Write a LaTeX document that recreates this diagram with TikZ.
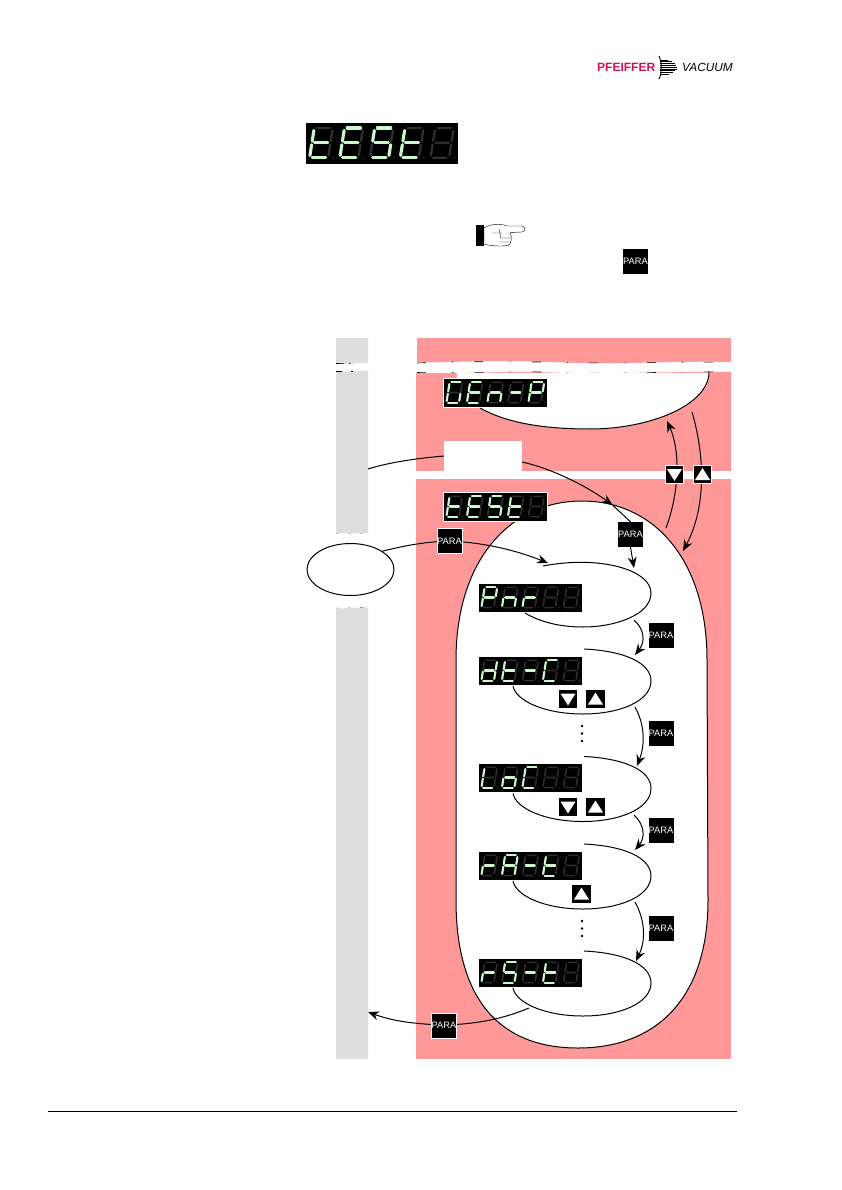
\documentclass[tikz,border=0pt]{standalone}
\usepackage{fontspec}
\setmainfont{Liberation Sans}
\usetikzlibrary{arrows.meta,shapes.geometric}

\definecolor{panelpink}{HTML}{FF9999}
\definecolor{bargray}{HTML}{DEDEDE}
\definecolor{ledon}{HTML}{CDF7CD}
\definecolor{ledoff}{HTML}{2E2E2E}
\definecolor{logored}{HTML}{D4124F}

% Segmente der Anzeige
\def\segt{d,e,f,g}
\def\segE{a,d,e,f,g}
\def\segS{a,c,d,f,g}
\def\segG{a,c,d,e,f}
\def\segn{c,e,g}
\def\segm{g}
\def\segP{a,b,e,f,g}
\def\segr{e,g}
\def\segd{b,c,d,e,g}
\def\segC{a,d,e,f}
\def\segL{d,e,f}
\def\sego{c,d,e,g}
\def\segA{a,b,c,e,f,g}
\def\segx{z}

% #1 Name, #2 links, #3 oben, #4 Massstab, #5 Zeichen
\newcommand{\ledpanel}[5]{%
  \begin{scope}[shift={(#2,#3)},scale=#4]
    \fill[black] (0,0) coordinate (#1nw) rectangle (103,28) coordinate (#1se);
    \foreach \ch [count=\ii] in {#5} {
      \begin{scope}[shift={({5.6+20.5*(\ii-1)},3.4)},x={(12.6pt,0pt)},y={(-3.2pt,-20.2pt)},line cap=round]
        \fill[ledoff] (1.27,1) circle (0.7pt);
        \draw[ledoff,line width=#4*1.6pt] (0.14,0) -- (0.86,0) (1,0.08) -- (1,0.44) (1,0.56) -- (1,0.92)
          (0.14,1) -- (0.86,1) (0,0.56) -- (0,0.92) (0,0.08) -- (0,0.44) (0.14,0.5) -- (0.86,0.5);
        \edef\litlist{\csname seg\ch\endcsname}
        \foreach \s in \litlist {
          \if a\s \draw[ledon,line width=#4*2.1pt] (0.14,0) -- (0.86,0); \fi
          \if b\s \draw[ledon,line width=#4*2.1pt] (1,0.08) -- (1,0.44); \fi
          \if c\s \draw[ledon,line width=#4*2.1pt] (1,0.56) -- (1,0.92); \fi
          \if d\s \draw[ledon,line width=#4*2.1pt] (0.14,1) -- (0.86,1); \fi
          \if e\s \draw[ledon,line width=#4*2.1pt] (0,0.56) -- (0,0.92); \fi
          \if f\s \draw[ledon,line width=#4*2.1pt] (0,0.08) -- (0,0.44); \fi
          \if g\s \draw[ledon,line width=#4*2.1pt] (0.14,0.5) -- (0.86,0.5); \fi
        }
      \end{scope}
    }
  \end{scope}}

\tikzset{
  flow/.style={line width=1pt, -{Stealth[length=11pt,width=9pt]}},
  loopline/.style={line width=1pt},
  parakey/.style={fill=black, text=white, font=\fontsize{9.3}{10}\selectfont, minimum size=25pt, inner sep=0pt},
  parawhite/.style={parakey, draw=white, line width=1pt},
  arrowkey/.style={fill=black, minimum size=18.5pt, inner sep=0pt},
  keydown/.style={arrowkey, path picture={\fill[white] ([shift={(-7.5pt,5.5pt)}]path picture bounding box.center) -- ([shift={(7.5pt,5.5pt)}]path picture bounding box.center) -- ([shift={(0pt,-6.5pt)}]path picture bounding box.center) -- cycle;}},
  keyup/.style={arrowkey, path picture={\fill[white] ([shift={(-7.5pt,-5.5pt)}]path picture bounding box.center) -- ([shift={(7.5pt,-5.5pt)}]path picture bounding box.center) -- ([shift={(0pt,6.5pt)}]path picture bounding box.center) -- cycle;}},
  whitering/.style={draw=white, line width=1.4pt},
  tear/.style={line width=0.6pt, dash pattern=on 9pt off 26pt on 1.5pt off 21pt},
}

\begin{document}
\begin{tikzpicture}[x=1pt,y=-1pt]
  \useasboundingbox (0,0) rectangle (842,1190);
  \fill[white] (0,0) rectangle (842,1190);

  % Kopf: Logo
  \node[inner sep=0pt, anchor=west, text=logored, font=\bfseries\fontsize{12}{13}\selectfont] (logoA) at (597,67.5) {PFEIFFER};
  \node[inner sep=0pt, anchor=west, font=\itshape\fontsize{11.8}{12}\selectfont] (logoB) at (682,67.5) {VACUUM};
  \foreach \yy in {60,61.8,...,75} {
    \draw[line width=0.6pt] (660,\yy) -- ({677-0.16*(\yy-67.5)*(\yy-67.5)},\yy);
  }
  \draw[line width=0.9pt] (659,56) .. controls (662,62) and (662,73) .. (659,79);

  % Anzeige oben
  \ledpanel{top}{306}{123}{1.475}{t,E,S,t,x}

  % Hand
  \fill[black] (476,225) rectangle (484,246);
  \draw[line width=0.4pt, fill=white] (484,228) .. controls (490,224) and (500,223) .. (507,226) -- (522,226) .. controls (526,227) and (526,231) .. (522,232) -- (510,232.5) .. controls (512,236) and (512,244) .. (508,245.5) .. controls (500,246.5) and (490,246) .. (484,244) -- cycle;
  \draw[line width=0.3pt] (492,233) -- (502,233) (499,229) -- (501,238) (500,238) -- (511,238) (500,242) -- (510,242);

  \node[parakey] (paraHead) at (635.5,261.5) {PARA};

  % Flaechen
  \fill[bargray] (336,338) -- (368,338) -- (368,363) .. controls (360,364) and (358,362) .. (352,364) .. controls (346,365) and (342,363) .. (336,363) -- cycle;
  \fill[bargray] (336,371) .. controls (342,370) and (348,373) .. (352,372) .. controls (358,371) and (362,371) .. (368,371) -- (368,533) -- (336,533) -- cycle;
  \fill[bargray] (336,608.5) -- (368,607.5) -- (368,1059) -- (336,1059) -- cycle;
  \fill[panelpink] (417,338) -- (731,338) -- (731,362) .. controls (690,361) and (650,363) .. (620,363) .. controls (580,364) and (540,361) .. (500,361) .. controls (470,361) and (440,363) .. (417,362) -- cycle;
  \fill[panelpink] (416,373) .. controls (460,374) and (500,371) .. (540,372) .. controls (600,375) and (680,371) .. (731,372) -- (731,471) -- (416,471) -- cycle;
  \fill[panelpink] (416,479) rectangle (731,1059);

  % Abrisskanten
  \draw[tear] (417,372.5) .. controls (470,373.5) and (500,371) .. (540,372) .. controls (600,375) and (680,371) .. (731,372);
  \draw[tear] (417,363) .. controls (470,361) and (500,362) .. (540,362) .. controls (600,364) and (680,362) .. (731,362);
  \draw[line width=0.6pt, dash pattern=on 8pt off 5pt on 1.5pt off 20pt] (336,363.5) -- (368,363);
  \draw[line width=0.6pt, dash pattern=on 6pt off 9pt on 1.5pt off 20pt] (336,371) -- (368,371);
  \draw[line width=0.4pt, dash pattern=on 3pt off 9pt, black!60] (336,533.5) -- (368,533.5) (336,608) -- (368,607.5);

  % GEn-P Schleife
  \filldraw[fill=white, draw=white] (457,373) -- (709,373) .. controls (709,405) and (650,429) .. (590,429) .. controls (540,429) and (500,420) .. (480,408) -- (457,400) -- cycle;
  \coordinate (genEnd) at (480,408);
  \coordinate (genStart) at (709,372);
  \draw[loopline] (genStart) .. controls (709,405) and (650,429) .. (590,429) .. controls (540,429) and (505,422) .. (genEnd);

  % weisses Feld zwischen den Ebenen
  \node[fill=white, minimum width=78pt, minimum height=38pt, inner sep=0pt] (blankBox) at (483,460) {};
  \fill[white] (416,471) rectangle (731,479);

  % grosse Schleife
  \filldraw[fill=white, draw=black, line width=1pt] (456,660) .. controls (456,560) and (510,501) .. (582,501) .. controls (654,501) and (707,560) .. (707,660) -- (708,900) .. controls (708,1000) and (655,1048) .. (578,1048) .. controls (500,1048) and (456,1000) .. (456,900) -- cycle;

  % Oval links
  \node[draw, ellipse, fill=white, line width=1pt, minimum width=87pt, minimum height=52pt, inner sep=0pt] (paraOval) at (350.5,569.5) {};

  % innere Schleifen
  \coordinate (pnrStart) at (543,566);
  \coordinate (pnrEnd) at (525,613);
  \draw[loopline] (pnrStart) .. controls (600,555) and (651,570) .. (651,593) .. controls (651,615) and (615,627) .. (583,627) .. controls (560,627) and (540,622) .. (pnrEnd);
  \foreach \nm/\ytop in {dtc/649,loc/756.5,rat/844,rst/951} {
    \coordinate (\nm Start) at (584,\ytop);
    \coordinate (\nm End) at (513,\ytop+37);
    \draw[loopline] (\nm Start) .. controls (625,\ytop+2) and (651,\ytop+14) .. (651,\ytop+32) .. controls (651,\ytop+52) and (620,\ytop+65) .. (583,\ytop+65) .. controls (545,\ytop+65) and (516,\ytop+52) .. (\nm End);
  }

  % Anzeigen
  \draw[whitering] (444,379) rectangle (547,407);
  \ledpanel{gen}{444}{379}{1}{G,E,n,m,P}
  \draw[whitering] (444,493) rectangle (547,521);
  \ledpanel{test}{444}{493}{1}{t,E,S,t,x}
  \ledpanel{pnr}{479}{584}{1}{P,n,r,x,x}
  \ledpanel{dt}{479}{657}{1}{d,t,m,C,x}
  \ledpanel{lo}{479}{764}{1}{L,o,C,x,x}
  \ledpanel{ra}{479}{852}{1}{r,A,m,t,x}
  \ledpanel{rs}{479}{959}{1}{r,S,m,t,x}

  % Tasten
  \node[parakey] (paraTest) at (630.5,534.5) {PARA};
  \node[parakey] (para1) at (661,635.5) {PARA};
  \node[parakey] (para2) at (661,733.5) {PARA};
  \node[parakey] (para3) at (661,830.5) {PARA};
  \node[parakey] (para4) at (661,928.5) {PARA};
  \node[keydown] (dtDown) at (568,699) {};
  \node[keyup] (dtUp) at (595.5,699) {};
  \node[keydown] (loDown) at (568,807) {};
  \node[keyup] (loUp) at (595.5,807) {};
  \node[keyup] (raUp) at (581.5,894) {};

  % Punkte
  \foreach \yy in {726,733.5,741,921,928.5,936} {
    \fill[black] (582,\yy) circle (1.4pt);
  }

  % Pfeile
  \coordinate (barTop) at (368,469);
  \coordinate (boxInL) at (444,456);
  \coordinate (boxInR) at (522,462);
  \coordinate (capTip) at (612.5,505);
  \coordinate (capOut) at (666,528);
  \coordinate (capIn) at (683,551);
  \coordinate (genIn) at (667,421);
  \coordinate (genOut) at (692,412);
  \coordinate (barBottom) at (368,1012);
  \coordinate (rstOut) at (529,1008);
  \draw[loopline] (barTop) .. controls (390,462) and (420,458) .. (boxInL);
  \draw[flow] (boxInR) .. controls (550,468) and (585,485) .. (capTip);
  \draw[loopline] (capTip) -- (paraTest.north);
  \draw[flow] (paraTest.south) -- (634,568);
  \draw[loopline] (paraOval.30) .. controls (400,547) and (420,542) .. (449.5,541);
  \draw[flow] (449.5,541) .. controls (490,543) and (520,552) .. (548,563);
  \draw[flow] (capOut) .. controls (680,490) and (680,450) .. (genIn);
  \draw[flow] (genOut) .. controls (706,460) and (705,510) .. (capIn);
  \draw[flow] (634,620) .. controls (645,630) and (645,642) .. (635,655);
  \draw[flow] (635,707) .. controls (645,725) and (645,745) .. (637,766);
  \draw[flow] (634,815) .. controls (645,825) and (645,838) .. (635,850);
  \draw[flow] (635,902) .. controls (645,920) and (646,940) .. (636,961);
  \draw[loopline] (rstOut) .. controls (505,1018) and (480,1024) .. (444,1025);
  \draw[flow] (444,1025) .. controls (410,1024) and (390,1020) .. (barBottom);
  \node[parawhite] (paraIn) at (449.5,541) {PARA};
  \node[parawhite] (paraOut) at (444,1025.5) {PARA};
  \node[keydown, whitering] (genDown) at (674.5,474.5) {};
  \node[keyup, whitering] (genUp) at (702.5,474.5) {};

  % Fusslinie
  \coordinate (ruleL) at (48,1111);
  \coordinate (ruleR) at (737,1111);
  \draw[line width=1pt] (ruleL) -- (ruleR);
\end{tikzpicture}
\end{document}
